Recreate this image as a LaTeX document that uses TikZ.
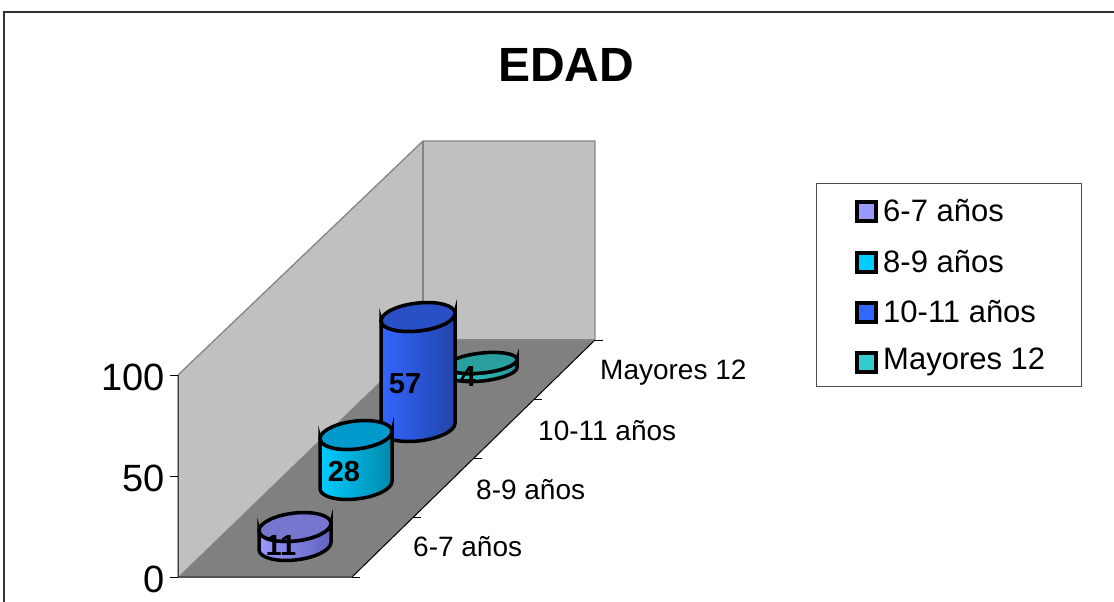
\documentclass[tikz,border=0pt]{standalone}
\usepackage{fontspec}
\setmainfont{Liberation Sans}
\definecolor{wallc}{HTML}{C0C0C0}
\definecolor{floorc}{HTML}{808080}
\definecolor{wallln}{HTML}{858585}
\definecolor{cA}{HTML}{9999FF}\definecolor{cAd}{HTML}{6262BE}\definecolor{cAt}{HTML}{7676CE}
\definecolor{cB}{HTML}{00CCFF}\definecolor{cBd}{HTML}{0088AA}\definecolor{cBt}{HTML}{0099CC}
\definecolor{cC}{HTML}{3366FF}\definecolor{cCd}{HTML}{2244AA}\definecolor{cCt}{HTML}{2A50C8}
\definecolor{cD}{HTML}{33CCCC}\definecolor{cDd}{HTML}{229999}\definecolor{cDt}{HTML}{2A9F9F}
\newcommand\mycyl[8]{%
  \begin{scope}[shift={(#1,#2)}, yslant=0.1]
    \path[draw=black, line width=3.5, left color=#6, right color=#7]
      (-#4,-#3) -- (-#4,0) arc[start angle=180, end angle=0, x radius=#4, y radius=#5]
      -- (#4,-#3) arc[start angle=0, end angle=180, x radius=#4, y radius=#5] -- cycle;
    \draw[line width=3.5, fill=#8] (0,-#3) ellipse[x radius=#4, y radius=#5];
  \end{scope}}
\begin{document}
\begin{tikzpicture}[x=1pt,y=-1pt,
  wallline/.style={draw=wallln, line width=1.3},
  axisline/.style={draw=black, line width=1},
  cat/.style={anchor=west, inner sep=0, font=\fontsize{28}{32}\selectfont},
  yl/.style={anchor=east, inner sep=0, font=\fontsize{38}{44}\selectfont},
  val/.style={inner sep=0, font=\bfseries\fontsize{29}{33}\selectfont},
  legtxt/.style={anchor=west, inner sep=0, font=\fontsize{31}{36}\selectfont},
  legmark/.style={draw=black, line width=4, minimum size=19, inner sep=0}]
\useasboundingbox (0,0) rectangle (1114,602);
\fill[white] (0,0) rectangle (1114,602);
\draw[line width=1.5, draw=black!80] (4,603) -- (4,12) -- (1115,12);
\node[font=\bfseries\fontsize{48}{56}\selectfont] (title) at (566,65) {EDAD};
% walls and floor
\fill[wallc] (178,375) -- (423,141) -- (423,340) -- (178,577) -- cycle;
\fill[wallc] (423,141) rectangle (595,340);
\fill[floorc] (178,577) -- (423,340) -- (595,340) -- (352,577) -- cycle;
\draw[wallline] (178,375) -- (423,141) -- (595,141) -- (595,340);
\draw[wallline] (423,141) -- (423,340) -- (595,340);
\draw[axisline] (178,375) -- (178,577) -- (352,577) -- (595,340);
% value axis ticks and labels
\foreach \yy in {375,476,577} {\draw[axisline] (170,\yy) -- (178,\yy);}
\node[yl] (y100) at (165,377) {100};
\node[yl] (y50) at (165,478) {50};
\node[yl] (y0) at (165,579) {0};
% category ticks
\foreach \k in {0,1,2,3,4} {\draw[axisline] ({595-60.75*\k},{340+59.25*\k}) -- ++(8,0);}
\node[cat] (c4) at (600,373) {Mayores 12};
\node[cat] (c3) at (538,431) {10-11 años};
\node[cat] (c2) at (476,490) {8-9 años};
\node[cat] (c1) at (413,547) {6-7 años};
% cylinders (back to front)
\mycyl{482}{371}{8}{35}{10}{cD}{cDd}{cDt}
\node[val] (v4) at (468,377) {4};
\mycyl{418}{427}{110}{37}{14}{cC}{cCd}{cCt}
\node[val] (v57) at (405,384) {57};
\mycyl{356}{485}{50}{36}{14}{cB}{cBd}{cBt}
\node[val] (v28) at (344,472) {28};
\mycyl{295}{546}{19}{36}{14}{cA}{cAd}{cAt}
\node[val] (v11) at (281,546) {11};
% legend
\draw[draw=black!70, line width=1] (816,183) rectangle (1081,386);
\node[legmark, fill=cA] (m1) at (866,211) {};
\node[legtxt] (l1) at (883,211) {6-7 años};
\node[legmark, fill=cB] (m2) at (866,262) {};
\node[legtxt] (l2) at (883,262) {8-9 años};
\node[legmark, fill=cC] (m3) at (866,312) {};
\node[legtxt] (l3) at (883,312) {10-11 años};
\node[legmark, fill=cD] (m4) at (866,362) {};
\node[legtxt] (l4) at (883,362) {Mayores 12};
\end{tikzpicture}
\end{document}
